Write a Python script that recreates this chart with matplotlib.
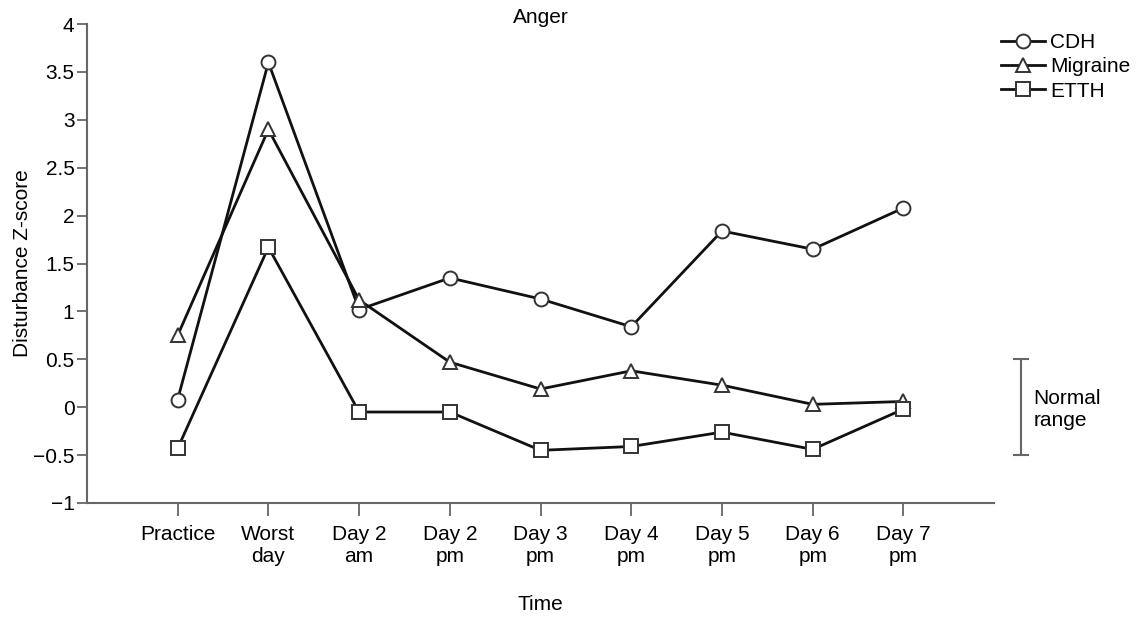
import matplotlib
matplotlib.use("Agg")
import matplotlib.pyplot as plt

categories = ["Practice", "Worst\nday", "Day 2\nam", "Day 2\npm", "Day 3\npm",
              "Day 4\npm", "Day 5\npm", "Day 6\npm", "Day 7\npm"]
cdh = [0.08, 3.60, 1.02, 1.35, 1.13, 0.84, 1.84, 1.65, 2.08]
migraine = [0.75, 2.90, 1.12, 0.47, 0.19, 0.38, 0.23, 0.03, 0.06]
etth = [-0.43, 1.67, -0.05, -0.05, -0.45, -0.41, -0.26, -0.44, -0.02]
yticks = [-1, -0.5, 0, 0.5, 1, 1.5, 2, 2.5, 3, 3.5, 4]
ytick_labels = ["\u22121", "\u22120.5", "0", "0.5", "1", "1.5", "2", "2.5", "3", "3.5", "4"]
normal_range = (-0.5, 0.5)

FS = 15
plt.rcParams['font.family'] = ['Liberation Sans', 'DejaVu Sans']
fig = plt.figure(figsize=(11.44, 6.19), dpi=100)
ax = fig.add_axes([0.076, 0.1874, 0.793, 0.7737])

x = list(range(len(categories)))
common = dict(color='#111111', lw=2.0, markersize=10, markerfacecolor='white',
              markeredgecolor='#333333', markeredgewidth=1.4, clip_on=False, zorder=3)
ax.plot(x, cdh, marker='o', label='CDH', **common)
ax.plot(x, migraine, marker='^', label='Migraine', **common)
ax.plot(x, etth, marker='s', label='ETTH', **common)

ax.set_xlim(-1, 9)
ax.set_ylim(-1, 4)
ax.set_xticks(x)
ax.set_xticklabels(categories, fontsize=FS, linespacing=1.2)
ax.set_yticks(yticks)
ax.set_yticklabels(ytick_labels, fontsize=FS)
for s in ['top', 'right']:
    ax.spines[s].set_visible(False)
for s in ['left', 'bottom']:
    ax.spines[s].set_color('#666666')
    ax.spines[s].set_linewidth(1.5)
ax.tick_params(axis='x', length=9, width=1.3, color='#666666', pad=7)
ax.tick_params(axis='y', length=7, width=1.3, color='#666666', pad=2)

ax.set_ylabel("Disturbance Z-score", fontsize=FS, labelpad=1)
ax.set_xlabel("Time", fontsize=FS, labelpad=21)
ax.set_title("Anger", fontsize=FS, y=1.0, pad=1)

# Normal range bar
nr_mid = (normal_range[0] + normal_range[1]) / 2
nr_half = (normal_range[1] - normal_range[0]) / 2
ax.errorbar([9.3], [nr_mid], yerr=[nr_half], fmt='none', ecolor='#666666',
            elinewidth=1.5, capsize=6, capthick=1.5, clip_on=False)
ax.text(9.43, -0.02, "Normal\nrange", fontsize=FS, va='center', ha='left',
        linespacing=1.2)

fig.legend(loc='upper left', bbox_to_anchor=(0.868, 0.96), frameon=False,
           fontsize=FS, handlelength=2.1, handletextpad=0.25, labelspacing=0.25,
           borderaxespad=0)

fig.savefig("out.png", dpi=100)
